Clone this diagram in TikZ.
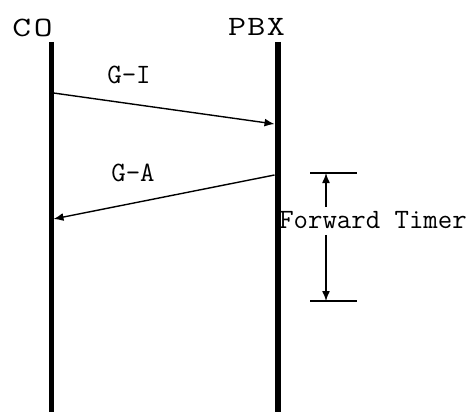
\documentclass[tikz,border=0pt]{standalone}
\usetikzlibrary{arrows.meta}
\begin{document}
\begin{tikzpicture}[x=1pt,y=-1pt,
  lbl/.style={font=\fontsize{28}{30}\selectfont\ttfamily, inner sep=0pt},
  msg/.style={line width=1.4pt, -{Latex[length=10pt,width=8pt]}},
  tick/.style={line width=1.4pt}]
\useasboundingbox (0,0) rectangle (470,412);
% lifeline heads (set a little wider than the body text)
\node[lbl] (co) at (32.5,27.5) {\scalebox{1.3}[1]{C\hspace{2pt}O}};
\node[lbl] (pbx) at (256.5,26.5) {\scalebox{1.25}[1]{P\hspace{1pt}B\hspace{1pt}X}};
% lifelines
\coordinate (coT) at (51,42);
\coordinate (coB) at (51,412);
\coordinate (pbxT) at (277.5,42);
\coordinate (pbxB) at (277.5,412);
\draw[line width=5pt] (coT) -- (coB);
\draw[line width=6pt] (pbxT) -- (pbxB);
% messages
\coordinate (giS) at (53.5,93);
\coordinate (giE) at (274.5,124);
\draw[msg] (giS) -- (giE);
\node[lbl] (gi) at (129,75) {G-I};
\coordinate (gaS) at (274.5,175);
\coordinate (gaE) at (53.5,219);
\draw[msg] (gaS) -- (gaE);
\node[lbl] (ga) at (133,173) {G-A};
% forward timer span
\coordinate (tTL) at (310,173);
\coordinate (tTR) at (357,173);
\coordinate (tBL) at (310,301);
\coordinate (tBR) at (357,301);
\draw[tick] (tTL) -- (tTR);
\draw[tick] (tBL) -- (tBR);
\node[lbl] (ft) at (373,220) {Forward Timer};
\coordinate (aT) at (326,173);
\coordinate (aB) at (326,301);
\draw[msg] (ft.north -| aT) ++(0,-4) -- (aT);
\draw[msg] (ft.south -| aB) ++(0,6) -- (aB);
\end{tikzpicture}
\end{document}
